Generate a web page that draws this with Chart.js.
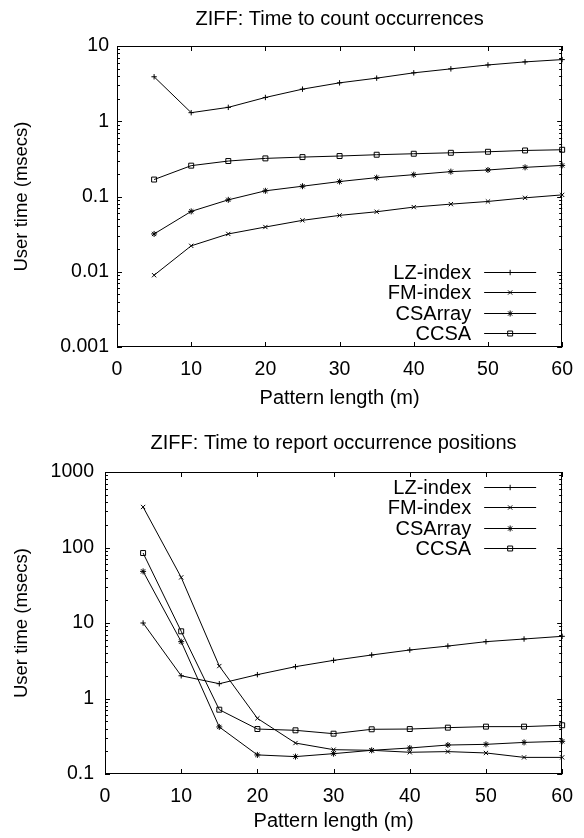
<!DOCTYPE html>
<html>
<head>
<meta charset="utf-8">
<title>ZIFF timings</title>
<script src="https://cdn.jsdelivr.net/npm/chart.js@4.4.1/dist/chart.umd.min.js"></script>
<style>
    body { margin: 0; background: #fff; }
    canvas { position: absolute; left: 0; }
</style>
</head>
<body>
<canvas id="countChart" width="584" height="419" style="top:0"></canvas>
<canvas id="reportChart" width="584" height="419" style="top:419px"></canvas>
<script>
// Pattern lengths (x) and tick labels
const patternLengths = [5, 10, 15, 20, 25, 30, 35, 40, 45, 50, 55, 60];
const xTicks = [0, 10, 20, 30, 40, 50, 60];
const countYTicks = [0.001, 0.01, 0.1, 1, 10];
const reportYTicks = [0.1, 1, 10, 100, 1000];

const seriesNames = ["LZ-index", "FM-index", "CSArray", "CCSA"];

// Time to count occurrences (msecs)
const lzCount = [3.9, 1.3, 1.53, 2.07, 2.67, 3.24, 3.74, 4.4, 4.97, 5.6, 6.15, 6.6];
const fmCount = [0.009, 0.0221, 0.0318, 0.0393, 0.0482, 0.0561, 0.0627, 0.0723, 0.0792, 0.0859, 0.096, 0.105];
const csaCount = [0.0318, 0.0634, 0.0903, 0.119, 0.137, 0.158, 0.178, 0.195, 0.214, 0.225, 0.244, 0.259];
const ccsaCount = [0.168, 0.257, 0.296, 0.321, 0.334, 0.345, 0.359, 0.37, 0.381, 0.393, 0.409, 0.418];

// Time to report occurrence positions (msecs)
const lzReport = [10, 2.0, 1.57, 2.07, 2.64, 3.2, 3.77, 4.39, 4.95, 5.66, 6.14, 6.66];
const fmReport = [344, 40.2, 2.69, 0.546, 0.257, 0.21, 0.206, 0.194, 0.198, 0.19, 0.166, 0.166];
const csaReport = [48.3, 5.66, 0.42, 0.179, 0.17, 0.186, 0.206, 0.221, 0.242, 0.247, 0.262, 0.271];
const ccsaReport = [84.5, 7.76, 0.711, 0.394, 0.379, 0.342, 0.391, 0.394, 0.411, 0.424, 0.424, 0.442];

const FONT = "'Liberation Sans', Arial, Helvetica, sans-serif";
const markerStyles = ["cross", "crossRot", "star", "rect"];
const markerSizes = [2.7, 3, 3, 3.5];

function drawMarker(ctx, style, x, y, r) {
    ctx.beginPath();
    if (style === "cross" || style === "star") {
        ctx.moveTo(x - r, y); ctx.lineTo(x + r, y);
        ctx.moveTo(x, y - r); ctx.lineTo(x, y + r);
    }
    if (style === "crossRot" || style === "star") {
        const d = r * Math.SQRT1_2;
        ctx.moveTo(x - d, y - d); ctx.lineTo(x + d, y + d);
        ctx.moveTo(x - d, y + d); ctx.lineTo(x + d, y - d);
    }
    if (style === "rect") {
        const s = r * Math.SQRT1_2;
        ctx.rect(x - s, y - s, 2 * s, 2 * s);
    }
    ctx.stroke();
}

// gnuplot-like frame with inward ticks on every side
const framePlugin = {
    id: "frame",
    afterDraw(chart) {
        const { ctx, chartArea: a, scales: { x, y } } = chart;
        ctx.save();
        ctx.strokeStyle = "#000";
        ctx.lineWidth = 1;
        ctx.beginPath();
        x.ticks.forEach(t => {
            const px = Math.round(x.getPixelForValue(t.value)) + 0.5;
            ctx.moveTo(px, a.bottom); ctx.lineTo(px, a.bottom - 5);
            ctx.moveTo(px, a.top); ctx.lineTo(px, a.top + 5);
        });
        y.ticks.forEach(t => {
            for (let k = 1; k < 10; k++) {
                const v = t.value * k;
                if (v > y.max * 1.0001) break;
                const py = Math.round(y.getPixelForValue(v)) + 0.5;
                const len = k === 1 ? 5 : 3;
                ctx.moveTo(a.left, py); ctx.lineTo(a.left + len, py);
                ctx.moveTo(a.right, py); ctx.lineTo(a.right - len, py);
            }
        });
        ctx.stroke();
        ctx.strokeRect(Math.round(a.left) + 0.5, Math.round(a.top) + 0.5,
            Math.round(a.width) - 1, Math.round(a.height) - 1);
        ctx.restore();
    }
};

// legend drawn inside the plot like gnuplot's key
const keyPlugin = {
    id: "key",
    afterDatasetsDraw(chart, args, opts) {
        const { ctx, chartArea: a } = chart;
        const rowH = 20.3;
        const n = chart.data.datasets.length;
        const firstY = opts.place === "top" ? a.top + 15 : a.bottom - 14 - rowH * (n - 1);
        ctx.save();
        ctx.font = "20px " + FONT;
        ctx.fillStyle = "#000";
        ctx.strokeStyle = "#000";
        ctx.lineWidth = 1;
        ctx.textAlign = "right";
        ctx.textBaseline = "middle";
        chart.data.datasets.forEach((ds, i) => {
            const yy = Math.round(firstY + i * rowH) + 0.5;
            ctx.fillText(ds.label, a.right - 91, yy + 1);
            ctx.beginPath();
            ctx.moveTo(a.right - 78, yy); ctx.lineTo(a.right - 26, yy);
            ctx.stroke();
            drawMarker(ctx, ds.pointStyle, a.right - 52, yy, ds.pointRadius);
        });
        ctx.restore();
    }
};

function makeDatasets(seriesValues) {
    return seriesValues.map((vals, i) => ({
        label: seriesNames[i],
        data: vals.map((v, j) => ({ x: patternLengths[j], y: v })),
        borderColor: "#000",
        borderWidth: 1,
        pointStyle: markerStyles[i],
        pointRadius: markerSizes[i],
        pointBorderColor: "#000",
        pointBorderWidth: 1,
        pointBackgroundColor: "rgba(0,0,0,0)",
        tension: 0,
        clip: false
    }));
}

function buildChart(canvasId, titleText, seriesValues, yTicks, cfg) {
    const tickFont = { family: FONT, size: 19.5 };
    return new Chart(document.getElementById(canvasId), {
        type: "line",
        data: { datasets: makeDatasets(seriesValues) },
        options: {
            responsive: false,
            animation: false,
            layout: { padding: { top: 0, right: 11, bottom: 0, left: 0 } },
            plugins: {
                legend: { display: false },
                tooltip: { enabled: false },
                title: {
                    display: true,
                    fullSize: false,
                    text: titleText,
                    color: "#000",
                    font: { family: FONT, size: 20, weight: "normal" },
                    padding: { top: cfg.titleTop, bottom: cfg.titleBottom }
                },
                key: { place: cfg.keyPlace }
            },
            scales: {
                x: {
                    type: "linear",
                    min: xTicks[0],
                    max: xTicks[xTicks.length - 1],
                    grid: { display: false, drawTicks: false },
                    border: { display: false },
                    afterBuildTicks: s => { s.ticks = xTicks.map(v => ({ value: v })); },
                    afterFit: s => { s.height = cfg.xHeight; },
                    ticks: { color: "#000", font: tickFont, padding: 11, maxRotation: 0 },
                    title: {
                        display: true,
                        text: "Pattern length (m)",
                        color: "#000",
                        font: { family: FONT, size: 20 },
                        padding: { top: 0, bottom: cfg.xTitleBottom }
                    }
                },
                y: {
                    type: "logarithmic",
                    min: yTicks[0],
                    max: yTicks[yTicks.length - 1],
                    grid: { display: false, drawTicks: false },
                    border: { display: false },
                    afterBuildTicks: s => { s.ticks = yTicks.map(v => ({ value: v })); },
                    afterFit: s => { s.width = cfg.yWidth; },
                    ticks: {
                        color: "#000",
                        font: tickFont,
                        padding: cfg.yPad,
                        autoSkip: false,
                        callback: v => String(v)
                    },
                    title: {
                        display: true,
                        text: "User time (msecs)",
                        color: "#000",
                        font: { family: FONT, size: 18.5 },
                        padding: { top: 11, bottom: 0 }
                    }
                }
            }
        },
        plugins: [framePlugin, keyPlugin]
    });
}

buildChart("countChart", "ZIFF: Time to count occurrences",
    [lzCount, fmCount, csaCount, ccsaCount], countYTicks,
    { titleTop: 7, titleBottom: 15, xHeight: 72, xTitleBottom: 9, yWidth: 117, yPad: 8, keyPlace: "bottom" });

buildChart("reportChart", "ZIFF: Time to report occurrence positions",
    [lzReport, fmReport, csaReport, ccsaReport], reportYTicks,
    { titleTop: 12, titleBottom: 17, xHeight: 64, xTitleBottom: 5, yWidth: 105, yPad: 11, keyPlace: "top" });
</script>
</body>
</html>
